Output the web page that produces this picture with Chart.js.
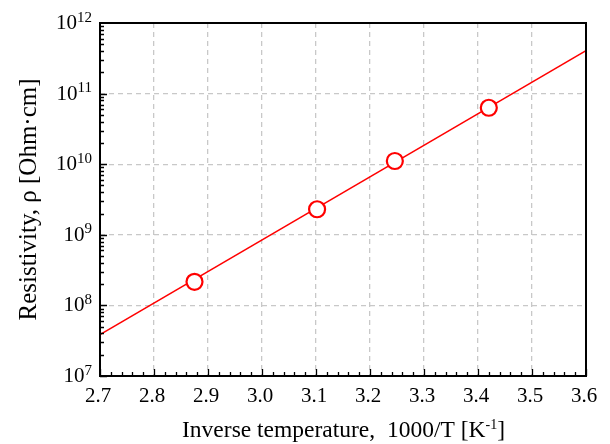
<!DOCTYPE html>
<html>
<head>
<meta charset="utf-8">
<script src="https://cdn.jsdelivr.net/npm/chart.js@4.4.1/dist/chart.umd.min.js"></script>
<style>
html, body { margin: 0; padding: 0; background: #fff; }
</style>
</head>
<body>
<canvas id="chart" width="610" height="444"></canvas>
<script>
// measured points (1000/T in K^-1, resistivity in Ohm*cm)
var invTemp = [2.875, 3.102, 3.246, 3.420];
var resistivity = [2.16e8, 2.3e9, 1.11e10, 6.3e10];
// end points of the fitted line
var fitInvTemp = [2.7, 3.6];
var fitResistivity = [3.87e7, 4.05e11];
var xTickLabels = ['2.7', '2.8', '2.9', '3.0', '3.1', '3.2', '3.3', '3.4', '3.5', '3.6'];
var yTickExponents = [7, 8, 9, 10, 11, 12];

var serif = '"Liberation Serif", "DejaVu Serif", serif';

function pairs(xs, ys) {
    return xs.map(function(x, i) { return {x: x, y: ys[i]}; });
}

// draws inward ticks, frame, tick labels and axis titles
var decor = {
    id: 'decor',
    afterDraw: function(chart) {
        var ctx = chart.ctx;
        var area = chart.chartArea;
        var xs = chart.scales.x;
        var ys = chart.scales.y;
        ctx.save();
        ctx.strokeStyle = '#000';
        ctx.lineWidth = 1.3;
        ctx.beginPath();
        for (var i = 0; i <= 45; i++) {
            var px = Math.round(xs.getPixelForValue(2.7 + i * 0.02)) + 0.5;
            var len = (i % 5 === 0) ? 7 : 4;
            ctx.moveTo(px, area.bottom);
            ctx.lineTo(px, area.bottom - len);
        }
        for (var e = yTickExponents[0]; e < yTickExponents[yTickExponents.length - 1]; e++) {
            for (var m = 1; m <= 9; m++) {
                var py = Math.round(ys.getPixelForValue(m * Math.pow(10, e))) + 0.5;
                var l = (m === 1) ? 7 : 4;
                ctx.moveTo(area.left, py);
                ctx.lineTo(area.left + l, py);
            }
        }
        ctx.stroke();

        // frame
        ctx.lineWidth = 2;
        ctx.strokeRect(area.left, area.top, area.right - area.left, area.bottom - area.top);

        ctx.fillStyle = '#000';
        // x tick labels
        ctx.font = '21px ' + serif;
        ctx.textAlign = 'center';
        ctx.textBaseline = 'alphabetic';
        xTickLabels.forEach(function(lab) {
            ctx.fillText(lab, xs.getPixelForValue(parseFloat(lab)) - 2, area.bottom + 26);
        });

        // y tick labels 10^n
        yTickExponents.forEach(function(e) {
            var py = ys.getPixelForValue(Math.pow(10, e));
            var right = area.left - 8;
            ctx.font = '15px ' + serif;
            var sup = String(e);
            var supW = ctx.measureText(sup).width;
            ctx.textAlign = 'left';
            ctx.fillText(sup, right - supW, py - 1.5);
            ctx.font = '21px ' + serif;
            ctx.textAlign = 'right';
            ctx.fillText('10', right - supW, py + 6);
        });

        // x axis title with superscript
        var t1 = 'Inverse temperature,  1000/T [K';
        var t2 = '-1';
        var t3 = ']';
        ctx.textAlign = 'left';
        ctx.font = '23.5px ' + serif;
        var w1 = ctx.measureText(t1).width;
        var w3 = ctx.measureText(t3).width;
        ctx.font = '14px ' + serif;
        var w2 = ctx.measureText(t2).width;
        var x0 = 343.5 - (w1 + w2 + w3) / 2;
        var by = 437;
        ctx.font = '23.5px ' + serif;
        ctx.fillText(t1, x0, by);
        ctx.fillText(t3, x0 + w1 + w2, by);
        ctx.font = '14px ' + serif;
        ctx.fillText(t2, x0 + w1, by - 8);

        // y axis title
        ctx.translate(36, (area.top + area.bottom) / 2);
        ctx.rotate(-Math.PI / 2);
        ctx.font = '25px ' + serif;
        ctx.textAlign = 'center';
        ctx.fillText('Resistivity, \u03c1 [Ohm\u00b7cm]', 0, 0);
        ctx.restore();
    }
};

var gridStyle = { color: '#c8c8c8', lineWidth: 1.3, drawTicks: false };

var chart = new Chart(document.getElementById('chart').getContext('2d'), {
    type: 'line',
    data: {
        datasets: [{
            label: 'measured',
            data: pairs(invTemp, resistivity),
            showLine: false,
            pointRadius: 8,
            pointHoverRadius: 8,
            pointBorderWidth: 2.2,
            pointBackgroundColor: '#fff',
            pointBorderColor: '#ff0000'
        }, {
            label: 'fit',
            data: pairs(fitInvTemp, fitResistivity),
            borderColor: '#ff0000',
            borderWidth: 1.5,
            pointRadius: 0,
            fill: false
        }]
    },
    options: {
        responsive: false,
        animation: false,
        devicePixelRatio: 1,
        layout: { padding: { top: 23, right: 24, left: 0, bottom: 0 } },
        plugins: {
            legend: { display: false },
            tooltip: { enabled: false }
        },
        scales: {
            x: {
                type: 'linear',
                min: 2.7,
                max: 3.6,
                ticks: { stepSize: 0.1, display: false },
                grid: gridStyle,
                border: { display: false, dash: [5, 4] },
                afterFit: function(s) { s.height = 68; }
            },
            y: {
                type: 'logarithmic',
                min: 1e7,
                max: 1e12,
                ticks: { display: false },
                afterBuildTicks: function(s) {
                    s.ticks = yTickExponents.map(function(e) { return {value: Math.pow(10, e)}; });
                },
                grid: gridStyle,
                border: { display: false, dash: [5, 4] },
                afterFit: function(s) { s.width = 100; }
            }
        }
    },
    plugins: [decor]
});
</script>
</body>
</html>
